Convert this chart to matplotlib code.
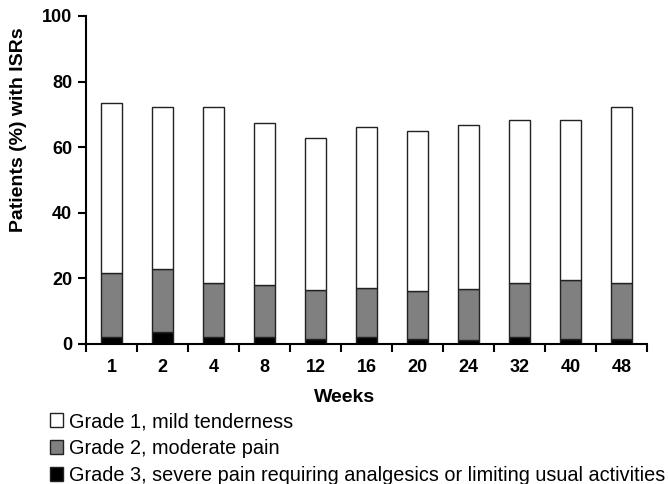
import numpy as np
import matplotlib
matplotlib.use("Agg")
import matplotlib.pyplot as plt
from matplotlib.patches import Patch

weeks = ["1", "2", "4", "8", "12", "16", "20", "24", "32", "40", "48"]
# percent of patients
grade3 = [2.1, 3.6, 2.1, 2.1, 1.5, 2.1, 1.4, 1.1, 2.1, 1.5, 1.5]
grade2 = [19.4, 19.3, 16.4, 15.8, 14.9, 15.0, 14.7, 15.7, 16.5, 17.9, 17.0]
grade1 = [52.0, 49.4, 53.8, 49.5, 46.4, 49.1, 48.8, 50.0, 49.7, 48.9, 53.8]

labels = ["Grade 1, mild tenderness",
          "Grade 2, moderate pain",
          "Grade 3, severe pain requiring analgesics or limiting usual activities"]

plt.rcParams['font.family'] = ['Liberation Sans', 'DejaVu Sans']

fig = plt.figure(figsize=(6.68, 4.84), dpi=100)
ax = fig.add_axes([86/668, 1 - 344/484, 561/668, 328/484])

x = np.arange(len(weeks))
g3 = np.array(grade3)
g2 = np.array(grade2)
g1 = np.array(grade1)
w = 0.4
ec = "#222222"
ax.bar(x, g3, w, color="black", edgecolor=ec, linewidth=1, zorder=2)
ax.bar(x, g2, w, bottom=g3, color="#808080", edgecolor=ec, linewidth=1, zorder=2)
ax.bar(x, g1, w, bottom=g3 + g2, color="white", edgecolor=ec, linewidth=1, zorder=2)

ax.set_xlim(-0.5, len(weeks) - 0.5)
ax.set_ylim(0, 100)
ax.set_yticks(np.arange(0, 101, 20))
ax.set_xticks(x)
ax.set_xticklabels(weeks)
ax.set_xticks(np.arange(-0.5, len(weeks), 1.0), minor=True)
ax.tick_params(axis="x", which="major", length=0, pad=11)
ax.tick_params(axis="x", which="minor", length=6, width=1.5, direction="out")
ax.tick_params(axis="y", length=6, width=1.5, direction="out", pad=4)
for lab in ax.get_xticklabels() + ax.get_yticklabels():
    lab.set_fontweight("bold")
    lab.set_fontsize(13)

for s in ["top", "right"]:
    ax.spines[s].set_visible(False)
for s in ["left", "bottom"]:
    ax.spines[s].set_linewidth(1.5)

ax.set_ylabel("Patients (%) with ISRs", fontsize=14, fontweight="bold", va="center")
ax.yaxis.set_label_coords(-0.121, 0.652)
fig.text(345/668, 1 - 397/484, "Weeks", fontsize=14, fontweight="bold",
         ha="center", va="center")

handles = [Patch(facecolor="white", edgecolor=ec, linewidth=1),
           Patch(facecolor="#808080", edgecolor=ec, linewidth=1),
           Patch(facecolor="black", edgecolor=ec, linewidth=1)]
fig.legend(handles, labels, loc="upper left", bbox_to_anchor=(50/668, 1 - 412/484),
           frameon=False, fontsize=14.3, handlelength=0.65, handleheight=0.65,
           handletextpad=0.3, labelspacing=0.4, borderpad=0, borderaxespad=0)

fig.savefig("out.png", dpi=100)
